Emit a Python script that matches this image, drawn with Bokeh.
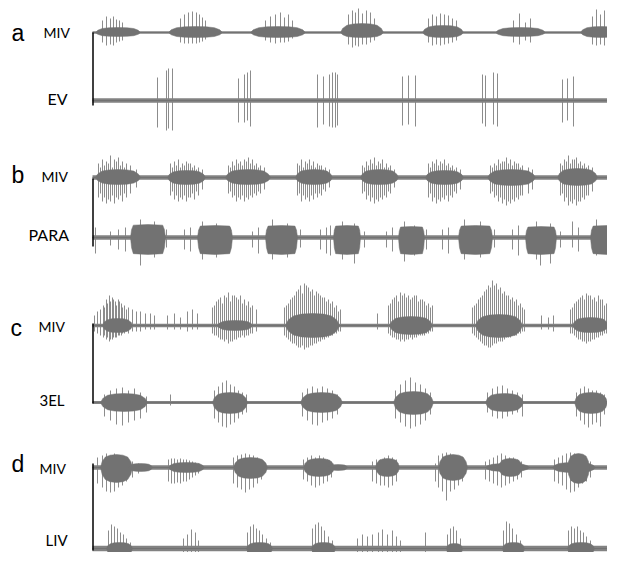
from bokeh.plotting import figure
from bokeh.models import Range1d, ColumnDataSource
from bokeh.core.properties import value
from bokeh.embed import file_html
from bokeh.resources import INLINE

# ---------------- data (time in trace units from start of record, amplitude in trace units) -------------
# Panel a: MIV
a_miv_burst_start = [3, 76, 158, 248, 330, 403, 488]
a_miv_burst_end = [48, 130, 213, 291, 371, 453, 531]
a_miv_burst_up = [5, 6, 6, 9, 7, 5, 6]
a_miv_burst_down = [4, 5, 5, 5, 5, 4, 5]
a_miv_spike_t = [10, 14, 18, 21, 24, 27, 30, 88, 92, 96, 100, 104, 107, 110, 113,
                 173, 178, 183, 188, 192, 196, 200, 256, 260, 263, 266, 270, 274, 278, 282,
                 336, 340, 344, 348, 352, 356, 360, 364, 421, 427, 433, 438, 500, 504, 508, 512, 515]
a_miv_spike_up = [12, 16, 14, 16, 13, 12, 10, 14, 18, 20, 21, 20, 18, 15, 12,
                  12, 16, 18, 20, 15, 18, 12, 18, 22, 20, 24, 19, 22, 20, 14,
                  14, 18, 16, 19, 18, 17, 14, 12, 12, 19, 10, 14, 16, 23, 18, 22, 15]
a_miv_spike_down = [10, 13, 12, 13, 10, 9, 8, 10, 11, 11, 11, 11, 10, 9, 7,
                    8, 10, 11, 10, 10, 9, 6, 12, 15, 13, 14, 12, 12, 10, 8,
                    10, 13, 12, 13, 12, 11, 10, 8, 10, 12, 8, 10, 12, 13, 12, 13, 10]

# Panel a: EV
ev_burst_start = []
ev_burst_end = []
ev_burst_up = []
ev_burst_down = []
ev_spike_t = [65, 74, 76, 80, 146, 152, 155, 158, 225, 231, 237, 240, 243, 245,
              310, 316, 323, 390, 393, 401, 405, 470, 475, 481]
ev_spike_up = [23, 30, 32, 32, 22, 26, 28, 30, 26, 24, 26, 28, 28, 26,
               24, 25, 25, 26, 25, 28, 27, 21, 22, 24]
ev_spike_down = [27, 30, 28, 30, 22, 22, 20, 26, 27, 24, 26, 27, 27, 25,
                 25, 24, 26, 23, 26, 24, 26, 22, 20, 26]

# Panel b: MIV
b_miv_burst_start = [3, 75, 133, 203, 268, 333, 395, 465]
b_miv_burst_end = [48, 113, 178, 240, 306, 371, 443, 505]
b_miv_burst_up = [8, 7, 8, 8, 8, 7, 8, 9]
b_miv_burst_down = [7, 7, 7, 7, 7, 7, 8, 8]
b_miv_spike_t = [6, 10, 14, 18, 22, 26, 30, 34, 38, 44,
                 78, 82, 86, 90, 94, 98, 102, 106, 110,
                 136, 140, 144, 148, 152, 156, 160, 164, 168, 172,
                 205, 209, 213, 217, 221, 225, 229, 233, 237,
                 270, 274, 278, 282, 286, 290, 294, 298, 302,
                 336, 340, 344, 348, 352, 356, 360, 364, 368,
                 398, 402, 406, 410, 414, 418, 422, 426, 430, 436, 440,
                 468, 472, 476, 480, 484, 488, 492, 496, 500,
                 8, 12, 16, 20, 24, 28, 32, 80, 84, 88, 92, 96, 100, 104,
                 138, 142, 146, 150, 154, 158, 162, 166, 207, 211, 215, 219, 223, 227, 231,
                 272, 276, 280, 284, 288, 292, 296, 338, 342, 346, 350, 354, 358, 362,
                 400, 404, 408, 412, 416, 420, 424, 428, 470, 474, 478, 482, 486, 490, 494]
b_miv_spike_up = [14, 18, 16, 22, 18, 20, 16, 14, 12, 8,
                  14, 16, 18, 14, 16, 14, 12, 10, 8,
                  12, 16, 18, 16, 18, 20, 18, 14, 12, 10,
                  14, 18, 16, 18, 16, 14, 12, 10, 8,
                  12, 16, 18, 20, 16, 18, 14, 12, 8,
                  14, 16, 18, 16, 18, 14, 12, 10, 8,
                  12, 14, 18, 16, 20, 18, 16, 14, 12, 10, 8,
                  14, 18, 22, 18, 20, 16, 14, 12, 10,
                  10, 12, 14, 10, 16, 12, 10, 10, 12, 10, 12, 14, 10, 8,
                  10, 12, 14, 12, 16, 14, 12, 10, 12, 10, 14, 12, 10, 12, 8,
                  10, 12, 14, 12, 14, 10, 10, 10, 14, 12, 14, 12, 10, 8,
                  10, 12, 14, 16, 14, 12, 14, 10, 12, 16, 14, 18, 14, 12, 10]
b_miv_spike_down = [20, 24, 26, 24, 26, 22, 24, 20, 16, 10,
                    18, 22, 24, 22, 24, 20, 22, 18, 12,
                    16, 20, 24, 22, 24, 22, 20, 18, 16, 12,
                    18, 24, 22, 24, 22, 20, 18, 14, 10,
                    16, 22, 24, 26, 24, 22, 20, 16, 10,
                    20, 24, 26, 24, 22, 24, 20, 16, 12,
                    16, 20, 24, 26, 28, 26, 24, 22, 18, 16, 12,
                    18, 24, 28, 26, 28, 24, 22, 18, 14,
                    16, 20, 22, 18, 20, 18, 16, 14, 18, 20, 18, 20, 16, 14,
                    14, 18, 20, 18, 20, 18, 16, 14, 16, 18, 20, 18, 16, 16, 12,
                    14, 18, 20, 22, 20, 18, 14, 16, 20, 22, 20, 18, 18, 14,
                    14, 18, 20, 22, 24, 22, 20, 18, 16, 20, 24, 22, 24, 20, 18]

# Panel b: PARA
para_burst_start = [38, 105, 173, 241, 306, 366, 433, 498]
para_burst_end = [73, 140, 205, 268, 332, 400, 464, 531]
para_burst_up = [13, 12, 12, 12, 11, 12, 11, 12]
para_burst_down = [17, 17, 17, 17, 17, 17, 17, 17]
para_spike_t = [3, 18, 26, 33, 48, 62, 74, 92, 98, 110, 124, 138, 160, 166, 180, 195, 208,
                228, 234, 238, 250, 262, 272, 294, 300, 312, 322, 334, 350, 356, 372, 388, 402,
                420, 426, 444, 448, 458, 468, 480, 486, 504, 520]
para_spike_up = [10, 6, 8, 10, 18, 16, 8, 8, 10, 16, 14, 10, 6, 10, 18, 14, 8,
                 8, 10, 12, 16, 14, 6, 6, 10, 16, 12, 8, 8, 10, 18, 16, 8,
                 8, 12, 16, 6, 14, 6, 16, 10, 18, 14]
para_spike_down = [16, 8, 12, 14, 28, 20, 10, 12, 14, 22, 20, 12, 10, 16, 22, 20, 10,
                   12, 16, 18, 22, 26, 10, 10, 14, 24, 18, 12, 12, 16, 22, 20, 10,
                   12, 18, 22, 28, 26, 10, 10, 14, 18, 20]

# Panel c: MIV
c_miv_burst_start = [10, 125, 193, 297, 383, 480]
c_miv_burst_end = [40, 160, 247, 340, 430, 516]
c_miv_burst_up = [7, 5, 12, 9, 11, 8]
c_miv_burst_down = [7, 5, 12, 9, 12, 7]
c_miv_spike_t = [2, 5, 8, 11, 14, 17, 20, 23, 26, 29, 32, 36, 40, 44, 48, 53, 58, 62,
                 75, 82, 88, 95, 100, 105,
                 120, 124, 128, 132, 136, 140, 144, 148, 152, 156, 160, 164,
                 192, 196, 200, 204, 208, 212, 216, 220, 224, 228, 232, 236, 240, 244, 248,
                 285,
                 296, 300, 304, 308, 312, 316, 320, 324, 328, 332, 336, 340,
                 380, 384, 388, 392, 396, 400, 404, 408, 412, 416, 420, 424, 428, 432,
                 449, 456, 461,
                 478, 482, 486, 490, 494, 498, 502, 506, 510, 514, 518,
                 12, 15, 18, 21, 24, 27, 30, 34,
                 122, 126, 130, 134, 138, 142, 146, 150, 154, 158,
                 194, 198, 202, 206, 210, 214, 218, 222, 226, 230, 234, 238, 242, 246,
                 298, 302, 306, 310, 314, 318, 322, 326, 330, 334, 338,
                 382, 386, 390, 394, 398, 402, 406, 410, 414, 418, 422, 426, 430,
                 480, 484, 488, 492, 496, 500, 504, 508, 512, 516]
c_miv_spike_up = [10, 14, 16, 20, 26, 30, 28, 24, 26, 22, 20, 18, 16, 14, 14, 12, 12, 10,
                  10, 12, 8, 14, 16, 12,
                  18, 24, 28, 30, 33, 30, 28, 30, 26, 24, 20, 16,
                  18, 22, 28, 34, 40, 42, 38, 36, 34, 30, 28, 26, 24, 20, 16,
                  12,
                  20, 26, 30, 33, 32, 30, 28, 30, 26, 24, 22, 20,
                  18, 22, 28, 34, 40, 45, 42, 38, 34, 30, 28, 26, 22, 16,
                  10, 8, 10,
                  16, 22, 26, 30, 32, 30, 28, 30, 26, 22, 18,
                  18, 22, 24, 26, 20, 24, 18, 16,
                  20, 26, 22, 28, 24, 30, 26, 22, 20, 18,
                  20, 26, 30, 36, 32, 40, 34, 30, 32, 28, 24, 22, 18, 14,
                  22, 28, 24, 30, 28, 26, 30, 24, 26, 20, 18,
                  20, 26, 30, 36, 38, 40, 36, 32, 30, 26, 24, 20, 18,
                  18, 24, 28, 26, 30, 26, 24, 26, 20, 16]
c_miv_spike_down = [6, 8, 10, 12, 14, 16, 14, 12, 10, 10, 8, 8, 6, 6, 6, 4, 4, 4,
                    4, 4, 4, 6, 4, 4,
                    8, 10, 14, 16, 18, 16, 14, 12, 12, 10, 8, 6,
                    10, 14, 18, 20, 22, 24, 22, 20, 18, 16, 14, 12, 10, 8, 6,
                    4,
                    8, 12, 14, 16, 16, 14, 14, 12, 10, 10, 8, 6,
                    8, 12, 16, 20, 22, 20, 18, 16, 14, 12, 10, 10, 8, 6,
                    4, 4, 6,
                    8, 10, 14, 16, 18, 16, 14, 12, 10, 8, 6,
                    10, 12, 14, 12, 12, 10, 8, 6,
                    10, 12, 14, 14, 16, 14, 12, 10, 10, 8,
                    12, 16, 18, 22, 20, 22, 20, 18, 16, 14, 12, 10, 8, 6,
                    10, 12, 14, 14, 14, 12, 12, 10, 10, 8, 6,
                    10, 14, 18, 20, 22, 18, 16, 16, 12, 12, 10, 8, 6,
                    8, 12, 14, 16, 16, 14, 12, 10, 8, 6]

# Panel c: 3EL
el3_burst_start = [8, 120, 208, 301, 393, 482]
el3_burst_end = [55, 155, 250, 341, 431, 515]
el3_burst_up = [9, 10, 10, 11, 9, 10]
el3_burst_down = [9, 11, 10, 12, 9, 11]
el3_spike_t = [12, 18, 24, 30, 36, 42, 48, 54, 78,
               122, 126, 130, 134, 138, 142, 146, 150, 154,
               210, 215, 220, 225, 230, 235, 240, 245,
               303, 308, 313, 318, 323, 328, 333, 338,
               395, 400, 405, 410, 415, 420, 425, 430,
               484, 488, 492, 496, 500, 504, 508, 512]
el3_spike_up = [8, 12, 14, 15, 12, 14, 10, 6, 8,
                12, 16, 20, 22, 18, 16, 12, 10, 8,
                10, 14, 16, 14, 16, 14, 12, 8,
                12, 18, 22, 25, 20, 18, 14, 10,
                10, 14, 16, 17, 14, 12, 10, 8,
                10, 14, 16, 14, 12, 12, 10, 8]
el3_spike_down = [14, 18, 22, 23, 20, 18, 16, 10, 3,
                  16, 20, 24, 25, 22, 20, 16, 12, 10,
                  14, 18, 22, 23, 20, 18, 16, 12,
                  16, 20, 24, 26, 24, 22, 18, 12,
                  10, 14, 16, 16, 14, 12, 10, 14,
                  14, 18, 22, 25, 22, 20, 24, 12]

# Panel d: MIV
d_miv_burst_start = [8, 36, 76, 141, 211, 236, 283, 346, 393, 406, 460, 475]
d_miv_burst_end = [40, 60, 112, 175, 242, 255, 307, 375, 437, 430, 503, 497]
d_miv_burst_up = [13, 4, 5, 10, 9, 3, 9, 13, 4, 9, 5, 14]
d_miv_burst_down = [15, 4, 5, 11, 9, 3, 9, 13, 4, 9, 5, 16]
d_miv_spike_t = [5, 10, 14, 18, 22, 26, 30, 34, 40, 46,
                 76, 79, 82, 85, 88, 91, 94, 97, 100, 103, 106,
                 141, 145, 149, 153, 157, 161, 165, 169,
                 211, 215, 219, 223, 227, 231, 235, 239,
                 280, 284, 288, 292, 296, 300, 304,
                 343,
                 346, 350, 354, 358, 362, 366, 370,
                 393, 397, 401, 405, 409, 413, 417, 421, 425, 429,
                 462, 466, 470, 474, 478, 482, 486, 490, 494, 498]
d_miv_spike_up = [10, 12, 14, 12, 14, 12, 10, 8, 6, 4,
                  8, 9, 9, 8, 9, 8, 8, 7, 6, 5, 4,
                  10, 12, 13, 14, 13, 12, 10, 8,
                  8, 10, 12, 10, 12, 10, 8, 6,
                  6, 8, 8, 10, 12, 10, 8,
                  4,
                  12, 14, 15, 14, 12, 10, 8,
                  6, 8, 10, 12, 14, 12, 10, 10, 8, 6,
                  8, 10, 12, 14, 15, 14, 12, 10, 8, 6]
d_miv_spike_down = [16, 20, 24, 25, 24, 20, 18, 14, 10, 6,
                    14, 16, 16, 15, 16, 14, 14, 12, 10, 8, 6,
                    16, 20, 22, 25, 22, 20, 16, 12,
                    12, 14, 18, 20, 18, 16, 14, 10,
                    14, 16, 18, 18, 20, 18, 14,
                    14,
                    20, 24, 33, 24, 22, 18, 14,
                    12, 14, 16, 18, 20, 18, 16, 14, 12, 10,
                    14, 16, 18, 22, 25, 24, 20, 16, 14, 10]

# Panel d: LIV
liv_burst_start = [14, 154, 219, 354, 410, 475]
liv_burst_end = [40, 180, 243, 370, 432, 502]
liv_burst_up = [6, 6, 6, 5, 6, 6]
liv_burst_down = [8, 8, 8, 8, 8, 8]
liv_spike_t = [16, 19, 22, 25, 28, 31, 34, 38,
               91, 95, 99, 103, 106,
               155, 158, 161, 164, 167, 170, 174, 178,
               220, 223, 226, 229, 232, 236, 240,
               265, 270, 275, 280, 286, 290, 295, 300, 304, 308,
               333,
               355, 358, 361, 364, 368,
               411, 414, 417, 420, 424, 428,
               476, 479, 482, 485, 488, 491, 494, 498,
               523]
liv_spike_up = [18, 24, 22, 20, 16, 14, 10, 6,
                10, 14, 19, 16, 8,
                16, 22, 24, 20, 18, 14, 10, 6,
                20, 24, 26, 22, 18, 12, 8,
                10, 14, 12, 14, 16, 19, 14, 18, 12, 8,
                16,
                14, 20, 22, 18, 10,
                18, 27, 25, 20, 14, 8,
                18, 22, 20, 22, 18, 16, 12, 8,
                17]
liv_spike_down = [14, 18, 16, 14, 12, 10, 8, 6,
                  6, 8, 10, 8, 6,
                  12, 16, 18, 16, 14, 12, 10, 8,
                  12, 16, 18, 16, 14, 10, 8,
                  6, 8, 6, 8, 10, 10, 8, 10, 6, 4,
                  6,
                  14, 16, 18, 14, 8,
                  14, 18, 16, 14, 10, 6,
                  14, 18, 16, 18, 14, 12, 10, 6,
                  6]

record_length = 531
panel_letters = ["a", "b", "c", "d"]
channel_names = ["MIV", "EV", "MIV", "PARA", "MIV", "3EL", "MIV", "LIV"]

# ---------------- layout ----------------
W, H = 607, 552
p = figure(width=W, height=H, output_backend="svg", toolbar_location=None,
           x_range=Range1d(-92, 515), y_range=Range1d(552, 0),
           min_border=0, min_border_left=0, min_border_right=0,
           min_border_top=0, min_border_bottom=0)
p.axis.visible = False
p.grid.visible = False
p.outline_line_color = None
p.background_fill_color = "white"
p.border_fill_color = "white"

CORE = "#727272"
BAND = "#828282"
SPIKE = "#8c8c8c"

# envelope shapes of the dense part of a burst (fraction of duration, fraction of amplitude)
LENS_X = [0, 0.05, 0.15, 0.3, 0.5, 0.7, 0.85, 0.95, 1]
LENS_Y = [0, 0.45, 0.8, 0.95, 1, 0.95, 0.8, 0.45, 0]
BOX_X = [0, 0.03, 0.08, 0.5, 0.92, 0.97, 1]
BOX_Y = [0, 0.6, 0.95, 1, 0.95, 0.6, 0]

traces = [
    # baseline y, noise, start, end, up, down, spike t, spike up, spike down, shape
    (32, 1.2, a_miv_burst_start, a_miv_burst_end, a_miv_burst_up, a_miv_burst_down,
     a_miv_spike_t, a_miv_spike_up, a_miv_spike_down, "lens"),
    (100, 2.2, ev_burst_start, ev_burst_end, ev_burst_up, ev_burst_down,
     ev_spike_t, ev_spike_up, ev_spike_down, "lens"),
    (177, 2.2, b_miv_burst_start, b_miv_burst_end, b_miv_burst_up, b_miv_burst_down,
     b_miv_spike_t, b_miv_spike_up, b_miv_spike_down, "lens"),
    (237, 2.2, para_burst_start, para_burst_end, para_burst_up, para_burst_down,
     para_spike_t, para_spike_up, para_spike_down, "box"),
    (325, 1.8, c_miv_burst_start, c_miv_burst_end, c_miv_burst_up, c_miv_burst_down,
     c_miv_spike_t, c_miv_spike_up, c_miv_spike_down, "lens"),
    (402, 1.6, el3_burst_start, el3_burst_end, el3_burst_up, el3_burst_down,
     el3_spike_t, el3_spike_up, el3_spike_down, "lens"),
    (467, 2.2, d_miv_burst_start, d_miv_burst_end, d_miv_burst_up, d_miv_burst_down,
     d_miv_spike_t, d_miv_spike_up, d_miv_spike_down, "lens"),
    (548, 2.8, liv_burst_start, liv_burst_end, liv_burst_up, liv_burst_down,
     liv_spike_t, liv_spike_up, liv_spike_down, "lens"),
]

for (base, noise, bs, be, bu, bd, st, su, sd, shape) in traces:
    fx, fy = (LENS_X, LENS_Y) if shape == "lens" else (BOX_X, BOX_Y)
    # spikes
    src = ColumnDataSource(dict(x=st, y0=[base - u for u in su], y1=[base + d for d in sd]))
    p.segment(x0="x", y0="y0", x1="x", y1="y1", source=src, line_color=SPIKE, line_width=1)
    # baseline noise band and centre line
    p.quad(left=[0], right=[record_length], top=[base - noise], bottom=[base + noise],
           fill_color=BAND, line_color=None)
    p.segment(x0=[0], y0=[base], x1=[record_length], y1=[base], line_color=CORE, line_width=1.2)
    # dense burst cores
    xs, ys = [], []
    for s, e, u, d in zip(bs, be, bu, bd):
        w = e - s
        top = [s + f * w for f in fx]
        xs.append(top + top[::-1])
        ys.append([base - g * u for g in fy] + [base + g * d for g in fy[::-1]])
    if xs:
        p.patches(xs=xs, ys=ys, fill_color=CORE, line_color=CORE, line_width=0.5)

# vertical calibration bars
p.segment(x0=[0.5, 0.5, 0.5, 0.5], y0=[32, 178, 323, 463],
          x1=[0.5, 0.5, 0.5, 0.5], y1=[105, 246, 403, 550],
          line_color="black", line_width=1.5)

# panel letters
p.text(x=[-81, -81, -82, -81], y=[32, 174, 327, 463], text=panel_letters,
       text_font=value("Liberation Sans"), text_font_size="23px",
       text_baseline="alphabetic", text_align="left", text_color="black")

# channel names
name_x = [-49, -45, -51, -64, -54, -53, -53, -47]
name_y = [32, 98, 176, 234, 326, 399, 468, 539]
name_size = ["14px", "16px", "14px", "16px", "14px", "15px", "14px", "15px"]
src_n = ColumnDataSource(dict(x=name_x, y=name_y, t=channel_names, s=name_size))
p.text(x="x", y="y", text="t", text_font_size="s", source=src_n,
       text_font=value("Lato"), text_baseline="alphabetic", text_align="left",
       text_color="black")

open("out.html", "w").write(file_html(p, INLINE))
